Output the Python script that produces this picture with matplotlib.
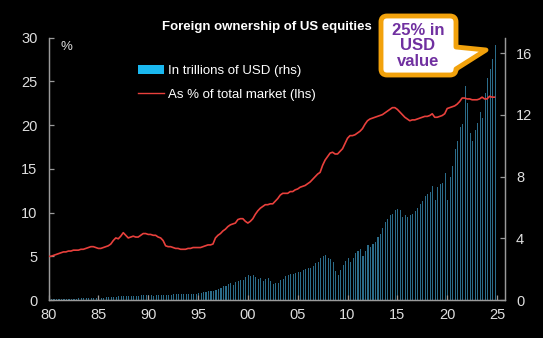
import matplotlib
matplotlib.use("Agg")
import matplotlib.pyplot as plt
from matplotlib.patches import Patch, PathPatch
from matplotlib.lines import Line2D
from matplotlib.path import Path

plt.rcParams["font.family"] = ["Liberation Sans", "DejaVu Sans"]

# quarterly, 1980Q1 .. 2024Q4
start_year = 1980

# foreign ownership as % of total market (lhs)
pct_of_market = [
    5.0, 5.0, 5.1, 5.2,   5.3, 5.4, 5.5, 5.5,   5.6, 5.6, 5.7, 5.7,   5.7, 5.8, 5.8, 5.9,
    6.0, 6.1, 6.1, 6.0,   5.9, 5.9, 6.0, 6.1,   6.2, 6.4, 6.8, 7.1,   7.0, 7.3, 7.7, 7.4,
    7.1, 7.2, 7.3, 7.2,   7.2, 7.4, 7.6, 7.6,   7.5, 7.5, 7.4, 7.4,   7.2, 7.1, 6.8, 6.2,
    6.1, 6.1, 6.0, 5.9,   5.9, 5.8, 5.8, 5.8,   5.9, 5.9, 6.0, 6.0,   6.0, 6.0, 6.1, 6.2,
    6.3, 6.3, 6.4, 7.1,   7.4, 7.6, 7.9, 8.1,   8.4, 8.6, 8.7, 8.8,   9.2, 9.3, 9.3, 9.0,
    8.8, 9.0, 9.3, 9.8,   10.2, 10.5, 10.7, 10.9,   10.9, 11.0, 11.0, 11.3,   11.6, 12.0, 12.2, 12.2,
    12.2, 12.4, 12.4, 12.6,   12.7, 12.9, 13.0, 13.1,   13.3, 13.5, 13.8, 14.1,   14.4, 14.6, 15.4, 16.0,
    16.4, 16.8, 16.9, 16.7,   16.7, 17.0, 17.3, 17.9,   18.5, 18.8, 18.8, 18.9,   19.1, 19.3, 19.6, 20.1,
    20.5, 20.7, 20.8, 20.9,   21.0, 21.1, 21.2, 21.4,   21.6, 21.8, 22.0, 22.0,   21.8, 21.5, 21.2, 20.9,
    20.7, 20.5, 20.6, 20.6,   20.7, 20.8, 20.9, 21.0,   21.0, 21.1, 21.3, 20.9,   20.9, 21.0, 21.1, 21.3,
    21.9, 22.0, 22.1, 22.2,   22.4, 22.7, 23.1, 23.1,   23.0, 23.0, 22.9, 22.9,   22.9, 23.0, 23.2, 23.0,
    23.0, 23.3, 23.2, 23.2,
]

# foreign holdings, trillions of USD (rhs)
usd_trn = [
    0.06, 0.06, 0.07, 0.07,   0.07, 0.07, 0.06, 0.07,   0.06, 0.07, 0.08, 0.09,   0.10, 0.11, 0.11, 0.11,
    0.11, 0.11, 0.12, 0.12,   0.13, 0.14, 0.15, 0.17,   0.18, 0.20, 0.20, 0.21,   0.24, 0.26, 0.28, 0.23,
    0.24, 0.25, 0.25, 0.26,   0.28, 0.30, 0.32, 0.32,   0.31, 0.32, 0.29, 0.31,   0.33, 0.33, 0.34, 0.35,
    0.35, 0.35, 0.36, 0.37,   0.38, 0.39, 0.40, 0.41,   0.40, 0.40, 0.41, 0.41,   0.44, 0.47, 0.50, 0.53,
    0.56, 0.58, 0.60, 0.66,   0.72, 0.80, 0.90, 0.93,   1.05, 1.08, 0.98, 1.15,   1.25, 1.32, 1.28, 1.50,
    1.60, 1.58, 1.60, 1.50,   1.38, 1.45, 1.25, 1.38,   1.40, 1.25, 1.05, 1.12,   1.10, 1.30, 1.38, 1.55,
    1.62, 1.66, 1.66, 1.78,   1.80, 1.84, 1.92, 1.98,   2.10, 2.10, 2.20, 2.38,   2.48, 2.70, 2.85, 2.92,
    2.75, 2.68, 2.45, 1.90,   1.62, 1.95, 2.30, 2.50,   2.70, 2.45, 2.75, 3.05,   3.20, 3.30, 2.85, 3.20,
    3.55, 3.45, 3.65, 3.75,   4.10, 4.30, 4.65, 5.05,   5.25, 5.50, 5.60, 5.85,   5.90, 5.85, 5.40, 5.50,
    5.40, 5.50, 5.60, 5.75,   5.95, 6.20, 6.40, 6.75,   6.85, 7.00, 7.40, 6.50,   7.30, 7.50, 7.60, 8.20,
    6.50, 8.00, 8.70, 9.80,   10.3, 11.2, 11.4, 13.9,   12.8, 10.8, 10.3, 11.0,   11.5, 12.2, 11.8, 13.4,
    14.4, 15.0, 15.6, 16.5,
]

quarters = [start_year + i / 4 for i in range(len(pct_of_market))]
x_ticks = list(range(1980, 2030, 5))
x_labels = [f"{t % 100:02d}" for t in x_ticks]

W, H = 543, 338
fig = plt.figure(figsize=(W / 100, H / 100), dpi=100, facecolor="black")
ax = fig.add_axes([48.5 / W, 1 - 300 / H, 456.5 / W, 262.3 / H])
ax.set_facecolor("black")
ax2 = ax.twinx()

grey = "#9a9a9a"
txt = "#dedede"

ax2.bar(quarters, usd_trn, width=0.11, align="edge", color="#2b6c8a", zorder=1)
ax.plot(quarters, pct_of_market, color="#e8403c", lw=1.2, zorder=3)
ax.set_zorder(ax2.get_zorder() + 1)
ax.patch.set_visible(False)

ax.set_xlim(1980, 2025.8)
ax.set_ylim(0, 30)
ax2.set_ylim(0, 17)
ax.set_xticks(x_ticks)
ax.set_xticklabels(x_labels)
ax.set_yticks(range(0, 31, 5))
ax2.set_yticks([0, 4, 8, 12, 16])

for a in (ax, ax2):
    a.spines["top"].set_visible(False)
    for s in ("left", "right", "bottom"):
        a.spines[s].set_color(grey)
        a.spines[s].set_linewidth(0.9)
    a.tick_params(direction="in", length=3.5, width=0.9, color=grey,
                  labelcolor=txt, labelsize=10.5, pad=6)
ax.tick_params(axis="y", pad=8)
ax2.tick_params(axis="y", pad=8)

ax.text(0.027, 0.965, "%", transform=ax.transAxes, color=txt, fontsize=9.5,
        ha="left", va="center")

fig.text(267 / W, 1 - 27 / H, "Foreign ownership of US equities", color="white",
         fontsize=9.5, fontweight="bold", ha="center", va="center")

handles = [Patch(facecolor="#1ab8f0", edgecolor="none"),
           Line2D([], [], color="#e8403c", lw=1.0)]
leg = ax.legend(handles, ["In trillions of USD (rhs)", "As % of total market (lhs)"],
                loc="upper left", bbox_to_anchor=(0.196, 0.895), frameon=False,
                fontsize=9.5, handlelength=2.0, handletextpad=0.25,
                labelspacing=0.85, borderpad=0, borderaxespad=0)
for t in leg.get_texts():
    t.set_color("white")

# callout box with pointer
def fp(x, y):
    return (x / W, 1 - y / H)

x0, x1, y0, y1, r = 381, 456, 16, 75, 6
pts = [
    (Path.MOVETO, (x0 + r, y0)),
    (Path.LINETO, (x1 - r, y0)),
    (Path.CURVE3, (x1, y0)), (Path.CURVE3, (x1, y0 + r)),
    (Path.LINETO, (x1, 47)),
    (Path.LINETO, (486, 50)),
    (Path.LINETO, (x1, 69)),
    (Path.LINETO, (x1, y1 - r)),
    (Path.CURVE3, (x1, y1)), (Path.CURVE3, (x1 - r, y1)),
    (Path.LINETO, (x0 + r, y1)),
    (Path.CURVE3, (x0, y1)), (Path.CURVE3, (x0, y1 - r)),
    (Path.LINETO, (x0, y0 + r)),
    (Path.CURVE3, (x0, y0)), (Path.CURVE3, (x0 + r, y0)),
    (Path.CLOSEPOLY, (x0 + r, y0)),
]
codes = [c for c, _ in pts]
verts = [fp(*p) for _, p in pts]
callout = PathPatch(Path(verts, codes), facecolor="white", edgecolor="#f2a20c",
                    lw=3.5, joinstyle="round", transform=fig.transFigure)
fig.patches.append(callout)
fig.text(418 / W, 1 - 46 / H, "25% in\nUSD\nvalue", color="#7030a0", fontsize=12,
         fontweight="bold", ha="center", va="center", linespacing=1.05)

fig.savefig("out.png", dpi=100, facecolor="black")
